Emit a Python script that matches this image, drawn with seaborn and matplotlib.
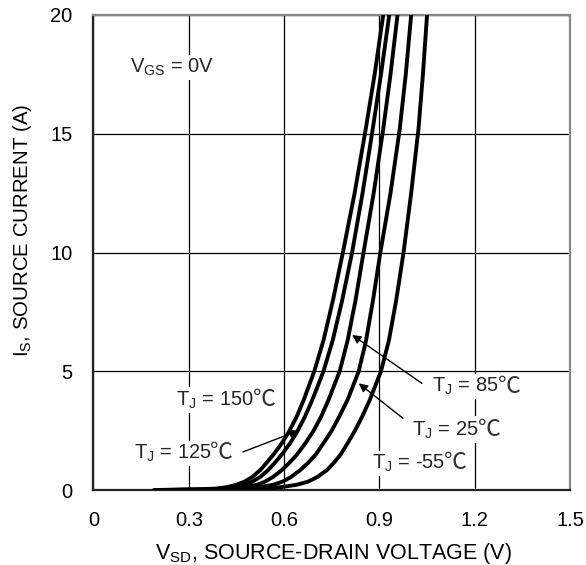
import matplotlib
matplotlib.use("Agg")
import matplotlib.pyplot as plt
import numpy as np
import pandas as pd
import seaborn as sns

sns.set_theme(style="white")
plt.rcParams["font.family"] = ["Liberation Sans", "DejaVu Sans"]
plt.rcParams["mathtext.fontset"] = "custom"
plt.rcParams["mathtext.rm"] = "Liberation Sans"

# ---- data ----
temps = ["150", "125", "85", "25", "-55"]
current = [0, 0.02, 0.06, 0.12, 0.22, 0.35, 0.55, 0.84, 1.15, 1.5, 1.97, 2.5,
           3.1, 3.8, 5.0, 6.3, 8.0, 10, 12.5, 15.2, 17.5, 20]
vsd_150 = [0.19, 0.32, 0.385, 0.420, 0.450, 0.475, 0.500, 0.525, 0.545, 0.567, 0.593, 0.617,
           0.640, 0.662, 0.695, 0.724, 0.754, 0.785, 0.822, 0.857, 0.885, 0.912]
vsd_125 = [0.20, 0.34, 0.410, 0.445, 0.475, 0.500, 0.525, 0.550, 0.571, 0.593, 0.619, 0.643,
           0.666, 0.689, 0.724, 0.753, 0.783, 0.814, 0.847, 0.879, 0.905, 0.931]
vsd_85 = [0.21, 0.37, 0.440, 0.480, 0.515, 0.540, 0.565, 0.593, 0.617, 0.641, 0.667, 0.693,
          0.717, 0.740, 0.775, 0.800, 0.825, 0.850, 0.882, 0.912, 0.935, 0.957]
vsd_25 = [0.22, 0.40, 0.480, 0.525, 0.565, 0.595, 0.622, 0.651, 0.676, 0.700, 0.724, 0.750,
          0.774, 0.800, 0.835, 0.858, 0.880, 0.903, 0.935, 0.964, 0.983, 1.000]
vsd_m55 = [0.24, 0.45, 0.540, 0.590, 0.640, 0.675, 0.705, 0.735, 0.757, 0.778, 0.800, 0.823,
           0.846, 0.870, 0.905, 0.930, 0.953, 0.976, 1.000, 1.023, 1.037, 1.050]

x_ticks = [0, 0.3, 0.6, 0.9, 1.2, 1.5]
x_ticklabels = ["0", "0.3", "0.6", "0.9", "1.2", "1.5"]
y_ticks = [0, 5, 10, 15, 20]
y_ticklabels = ["0", "5", "10", "15", "20"]

series = {"150": vsd_150, "125": vsd_125, "85": vsd_85, "25": vsd_25, "-55": vsd_m55}
frames = []
for t in temps:
    frames.append(pd.DataFrame({"vsd": series[t], "is": current, "tj": t}))
df = pd.concat(frames, ignore_index=True)

# ---- figure ----
fig = plt.figure(figsize=(5.86, 5.65), dpi=100)
ax = fig.add_axes([93.5 / 586, 75 / 565, 476.5 / 586, 475 / 565])

sns.lineplot(data=df, x="vsd", y="is", hue="tj", units="tj", estimator=None,
             sort=False, palette=["black"] * len(temps), linewidth=2.8,
             legend=False, ax=ax, zorder=5)

ax.set_xlim(0, 1.5)
ax.set_ylim(0, 20)
ax.set_xticks(x_ticks)
ax.set_xticklabels(x_ticklabels)
ax.set_yticks(y_ticks)
ax.set_yticklabels(y_ticklabels)
ax.tick_params(axis="both", length=0, pad=15, labelsize=14.5, colors="black")

ax.grid(True, color="black", linewidth=0.9)
ax.set_axisbelow(True)

for side in ["left", "bottom"]:
    ax.spines[side].set_color("#222222")
    ax.spines[side].set_linewidth(1.6)
for side in ["top", "right"]:
    ax.spines[side].set_color("#888888")
    ax.spines[side].set_linewidth(1.6)

ax.set_xlabel("V$_{\\mathrm{SD}}$, SOURCE-DRAIN VOLTAGE (V)", fontsize=15.5, color="black")
ax.set_ylabel("I$_{\\mathrm{S}}$, SOURCE CURRENT (A)", fontsize=14.7, color="black")
ax.xaxis.set_label_coords(0.503, -0.133)
ax.xaxis.label.set_va("center")
ax.yaxis.set_label_coords(-0.150, 0.547)
ax.yaxis.label.set_va("center")

bbox = dict(facecolor="white", edgecolor="none", pad=1.5)
fs = 14.5
ax.text(0.115, 17.8, "V$_{\\mathrm{GS}}$ = 0V", fontsize=fs, ha="left", va="center",
        bbox=bbox, zorder=3)

deg_family = ["Noto Sans CJK SC", "DejaVu Sans"]


def tj_label(x, y, num):
    t = ax.text(x, y, "T$_{\\mathrm{J}}$ = " + num, fontsize=fs, ha="left", va="center",
                bbox=bbox, zorder=3)
    common = dict(xy=(1, 0.5), xycoords=t, xytext=(-0.8, 0.3), textcoords="offset points",
                  fontsize=16.5, ha="left", va="center", family=deg_family,
                  annotation_clip=False)
    # white background behind the degree sign (drawn beneath the main text)
    ax.annotate("℃", color="white", bbox=bbox, zorder=2.9, **common)
    # the visible degree sign on top
    ax.annotate("℃", color="#333333", zorder=3.1, **common)


tj_label(0.26, 3.79, "150")
tj_label(0.126, 1.55, "125")
tj_label(1.066, 4.35, "85")
tj_label(1.003, 2.53, "25")
tj_label(0.877, 1.12, "-55")

arrow = dict(arrowstyle="-|>", color="black", lw=1.0, mutation_scale=13, shrinkA=0, shrinkB=0)
ax.annotate("", xy=(0.645, 2.5), xytext=(0.47, 1.6), arrowprops=arrow, zorder=6)
ax.annotate("", xy=(0.814, 6.53), xytext=(1.034, 4.49), arrowprops=arrow, zorder=6)
ax.annotate("", xy=(0.835, 4.49), xytext=(0.974, 3.02), arrowprops=arrow, zorder=6)

fig.savefig("out.png", dpi=100)
